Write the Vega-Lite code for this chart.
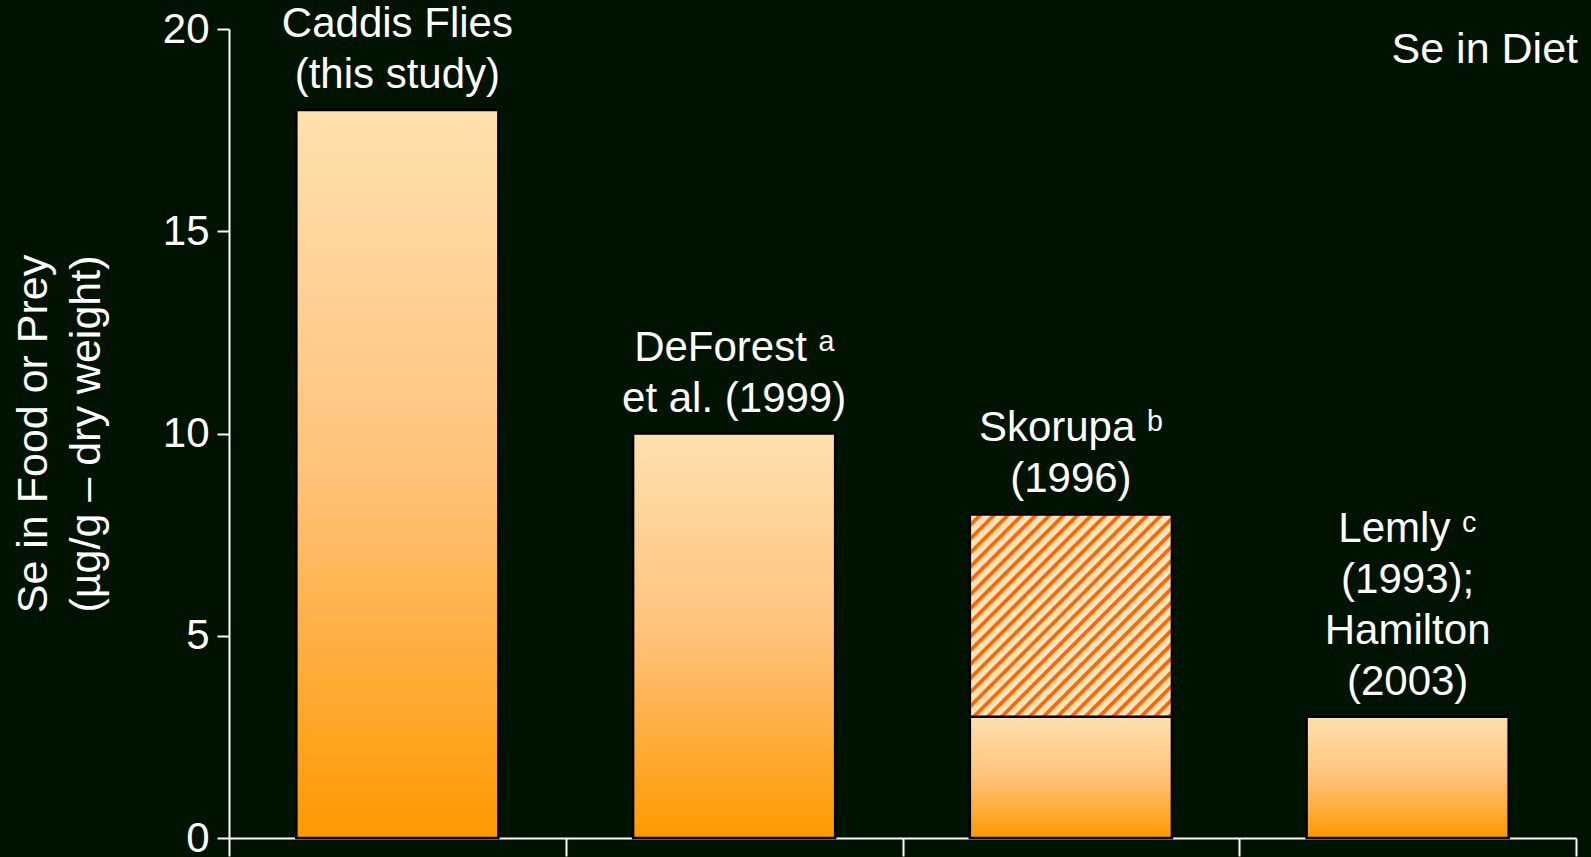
{
  "$schema": "https://vega.github.io/schema/vega-lite/v6.json",
  "width": 1347,
  "height": 809,
  "autosize": {"type": "none"},
  "padding": {"left": 229, "top": 29, "right": 15, "bottom": 19},
  "background": "#001300",
  "config": {
    "view": {"stroke": null},
    "font": "Liberation Sans",
    "text": {"font": "Liberation Sans", "color": "#ffffff", "lineBreak": "\n"}
  },
  "datasets": {
    "diet": [
      {"study": "Caddis", "lo": 0, "hi": 18, "fill": "solid", "label": "Caddis Flies\n(this study)"},
      {"study": "DeForest", "lo": 0, "hi": 10, "fill": "solid", "label": "DeForest ᵃ\net al. (1999)"},
      {"study": "Skorupa", "lo": 0, "hi": 3, "fill": "solid"},
      {"study": "Skorupa", "lo": 3, "hi": 8, "fill": "hatched", "label": "Skorupa ᵇ\n(1996)"},
      {"study": "Lemly", "lo": 0, "hi": 3, "fill": "solid", "label": "Lemly ᶜ\n(1993);\nHamilton\n(2003)"}
    ],
    "note": [{"study": "Lemly", "level": 19.15, "text": "Se in Diet"}]
  },
  "encoding": {
    "x": {
      "field": "study",
      "type": "nominal",
      "sort": ["Caddis", "DeForest", "Skorupa", "Lemly"],
      "scale": {"paddingInner": 0, "paddingOuter": 0},
      "axis": {
        "title": null,
        "labels": false,
        "tickBand": "extent",
        "domainColor": "#ffffff",
        "domainWidth": 2,
        "tickColor": "#ffffff",
        "tickWidth": 2,
        "tickSize": 18
      }
    }
  },
  "layer": [
    {
      "data": {"name": "diet"},
      "transform": [{"filter": "datum.fill === 'solid'"}],
      "mark": {
        "type": "bar",
        "width": {"band": 0.6},
        "stroke": "#000000",
        "strokeWidth": 2.5,
        "fill": {
          "gradient": "linear",
          "x1": 0, "y1": 0, "x2": 0, "y2": 1,
          "stops": [
            {"offset": 0, "color": "#ffe0ae"},
            {"offset": 0.5, "color": "#ffc27a"},
            {"offset": 1, "color": "#ff9900"}
          ]
        }
      },
      "encoding": {
        "y": {
          "field": "hi",
          "type": "quantitative",
          "scale": {"domain": [0, 20], "nice": false},
          "axis": {
            "title": ["Se in Food or Prey", "(µg/g – dry weight)"],
            "values": [0, 5, 10, 15, 20],
            "grid": false,
            "domainColor": "#ffffff",
            "domainWidth": 2,
            "tickColor": "#ffffff",
            "tickWidth": 2,
            "tickSize": 12,
            "labelColor": "#ffffff",
            "labelFont": "Liberation Sans",
            "labelFontSize": 42,
            "labelPadding": 8,
            "titleColor": "#ffffff",
            "titleFont": "Liberation Sans",
            "titleFontSize": 43,
            "titleFontWeight": "normal",
            "titleLineHeight": 53,
            "titlePadding": 54
          }
        },
        "y2": {"field": "lo"}
      }
    },
    {
      "data": {"name": "diet"},
      "transform": [{"filter": "datum.fill === 'hatched'"}],
      "mark": {
        "type": "bar",
        "width": {"band": 0.6},
        "stroke": "#000000",
        "strokeWidth": 2.5,
        "fill": {
          "gradient": "linear",
          "x1": 0, "y1": 0, "x2": 1, "y2": 1,
          "stops": [
            {"offset": 0.0, "color": "#ff6a00"},
            {"offset": 0.0017, "color": "#ffe2b8"}, {"offset": 0.0190, "color": "#ffe2b8"}, {"offset": 0.0224, "color": "#ff6600"}, {"offset": 0.0310, "color": "#ff6600"},
            {"offset": 0.0362, "color": "#ffe2b8"}, {"offset": 0.0535, "color": "#ffe2b8"}, {"offset": 0.0569, "color": "#ff6600"}, {"offset": 0.0655, "color": "#ff6600"},
            {"offset": 0.0707, "color": "#ffe2b8"}, {"offset": 0.0879, "color": "#ffe2b8"}, {"offset": 0.0914, "color": "#ff6600"}, {"offset": 0.1000, "color": "#ff6600"},
            {"offset": 0.1052, "color": "#ffe2b8"}, {"offset": 0.1224, "color": "#ffe2b8"}, {"offset": 0.1259, "color": "#ff6600"}, {"offset": 0.1345, "color": "#ff6600"},
            {"offset": 0.1397, "color": "#ffe2b8"}, {"offset": 0.1569, "color": "#ffe2b8"}, {"offset": 0.1603, "color": "#ff6600"}, {"offset": 0.1690, "color": "#ff6600"},
            {"offset": 0.1741, "color": "#ffe2b8"}, {"offset": 0.1914, "color": "#ffe2b8"}, {"offset": 0.1948, "color": "#ff6600"}, {"offset": 0.2034, "color": "#ff6600"},
            {"offset": 0.2086, "color": "#ffe2b8"}, {"offset": 0.2259, "color": "#ffe2b8"}, {"offset": 0.2293, "color": "#ff6600"}, {"offset": 0.2379, "color": "#ff6600"},
            {"offset": 0.2431, "color": "#ffe2b8"}, {"offset": 0.2603, "color": "#ffe2b8"}, {"offset": 0.2638, "color": "#ff6600"}, {"offset": 0.2724, "color": "#ff6600"},
            {"offset": 0.2776, "color": "#ffe2b8"}, {"offset": 0.2948, "color": "#ffe2b8"}, {"offset": 0.2983, "color": "#ff6600"}, {"offset": 0.3069, "color": "#ff6600"},
            {"offset": 0.3121, "color": "#ffe2b8"}, {"offset": 0.3293, "color": "#ffe2b8"}, {"offset": 0.3328, "color": "#ff6600"}, {"offset": 0.3414, "color": "#ff6600"},
            {"offset": 0.3466, "color": "#ffe2b8"}, {"offset": 0.3638, "color": "#ffe2b8"}, {"offset": 0.3672, "color": "#ff6600"}, {"offset": 0.3759, "color": "#ff6600"},
            {"offset": 0.3810, "color": "#ffe2b8"}, {"offset": 0.3983, "color": "#ffe2b8"}, {"offset": 0.4017, "color": "#ff6600"}, {"offset": 0.4103, "color": "#ff6600"},
            {"offset": 0.4155, "color": "#ffe2b8"}, {"offset": 0.4328, "color": "#ffe2b8"}, {"offset": 0.4362, "color": "#ff6600"}, {"offset": 0.4448, "color": "#ff6600"},
            {"offset": 0.4500, "color": "#ffe2b8"}, {"offset": 0.4672, "color": "#ffe2b8"}, {"offset": 0.4707, "color": "#ff6600"}, {"offset": 0.4793, "color": "#ff6600"},
            {"offset": 0.4845, "color": "#ffe2b8"}, {"offset": 0.5017, "color": "#ffe2b8"}, {"offset": 0.5052, "color": "#ff6600"}, {"offset": 0.5138, "color": "#ff6600"},
            {"offset": 0.5190, "color": "#ffe2b8"}, {"offset": 0.5362, "color": "#ffe2b8"}, {"offset": 0.5397, "color": "#ff6600"}, {"offset": 0.5483, "color": "#ff6600"},
            {"offset": 0.5534, "color": "#ffe2b8"}, {"offset": 0.5707, "color": "#ffe2b8"}, {"offset": 0.5741, "color": "#ff6600"}, {"offset": 0.5828, "color": "#ff6600"},
            {"offset": 0.5879, "color": "#ffe2b8"}, {"offset": 0.6052, "color": "#ffe2b8"}, {"offset": 0.6086, "color": "#ff6600"}, {"offset": 0.6172, "color": "#ff6600"},
            {"offset": 0.6224, "color": "#ffe2b8"}, {"offset": 0.6397, "color": "#ffe2b8"}, {"offset": 0.6431, "color": "#ff6600"}, {"offset": 0.6517, "color": "#ff6600"},
            {"offset": 0.6569, "color": "#ffe2b8"}, {"offset": 0.6741, "color": "#ffe2b8"}, {"offset": 0.6776, "color": "#ff6600"}, {"offset": 0.6862, "color": "#ff6600"},
            {"offset": 0.6914, "color": "#ffe2b8"}, {"offset": 0.7086, "color": "#ffe2b8"}, {"offset": 0.7121, "color": "#ff6600"}, {"offset": 0.7207, "color": "#ff6600"},
            {"offset": 0.7259, "color": "#ffe2b8"}, {"offset": 0.7431, "color": "#ffe2b8"}, {"offset": 0.7466, "color": "#ff6600"}, {"offset": 0.7552, "color": "#ff6600"},
            {"offset": 0.7603, "color": "#ffe2b8"}, {"offset": 0.7776, "color": "#ffe2b8"}, {"offset": 0.7810, "color": "#ff6600"}, {"offset": 0.7897, "color": "#ff6600"},
            {"offset": 0.7948, "color": "#ffe2b8"}, {"offset": 0.8121, "color": "#ffe2b8"}, {"offset": 0.8155, "color": "#ff6600"}, {"offset": 0.8241, "color": "#ff6600"},
            {"offset": 0.8293, "color": "#ffe2b8"}, {"offset": 0.8466, "color": "#ffe2b8"}, {"offset": 0.8500, "color": "#ff6600"}, {"offset": 0.8586, "color": "#ff6600"},
            {"offset": 0.8638, "color": "#ffe2b8"}, {"offset": 0.8810, "color": "#ffe2b8"}, {"offset": 0.8845, "color": "#ff6600"}, {"offset": 0.8931, "color": "#ff6600"},
            {"offset": 0.8983, "color": "#ffe2b8"}, {"offset": 0.9155, "color": "#ffe2b8"}, {"offset": 0.9190, "color": "#ff6600"}, {"offset": 0.9276, "color": "#ff6600"},
            {"offset": 0.9328, "color": "#ffe2b8"}, {"offset": 0.9500, "color": "#ffe2b8"}, {"offset": 0.9534, "color": "#ff6600"}, {"offset": 0.9621, "color": "#ff6600"},
            {"offset": 0.9672, "color": "#ffe2b8"}, {"offset": 0.9845, "color": "#ffe2b8"}, {"offset": 0.9879, "color": "#ff6600"}, {"offset": 0.9966, "color": "#ff6600"},
            {"offset": 1.0, "color": "#ff8a30"}
          ]
        }
      },
      "encoding": {
        "y": {"field": "hi", "type": "quantitative"},
        "y2": {"field": "lo"}
      }
    },
    {
      "data": {"name": "diet"},
      "transform": [{"filter": "isValid(datum.label) && length(split(datum.label, '\\n')) === 2"}],
      "mark": {
        "type": "text",
        "align": "center",
        "baseline": "alphabetic",
        "fontSize": 42,
        "lineHeight": 51,
        "dy": -73
      },
      "encoding": {
        "y": {"field": "hi", "type": "quantitative"},
        "text": {"field": "label"}
      }
    },
    {
      "data": {"name": "diet"},
      "transform": [{"filter": "isValid(datum.label) && length(split(datum.label, '\\n')) === 4"}],
      "mark": {
        "type": "text",
        "align": "center",
        "baseline": "alphabetic",
        "fontSize": 42,
        "lineHeight": 51,
        "dy": -175
      },
      "encoding": {
        "y": {"field": "hi", "type": "quantitative"},
        "text": {"field": "label"}
      }
    },
    {
      "data": {"name": "note"},
      "mark": {
        "type": "text",
        "align": "right",
        "baseline": "alphabetic",
        "fontSize": 43,
        "dx": 2
      },
      "encoding": {
        "x": {"field": "study", "type": "nominal", "bandPosition": 1},
        "y": {"field": "level", "type": "quantitative"},
        "text": {"field": "text"}
      }
    }
  ]
}
